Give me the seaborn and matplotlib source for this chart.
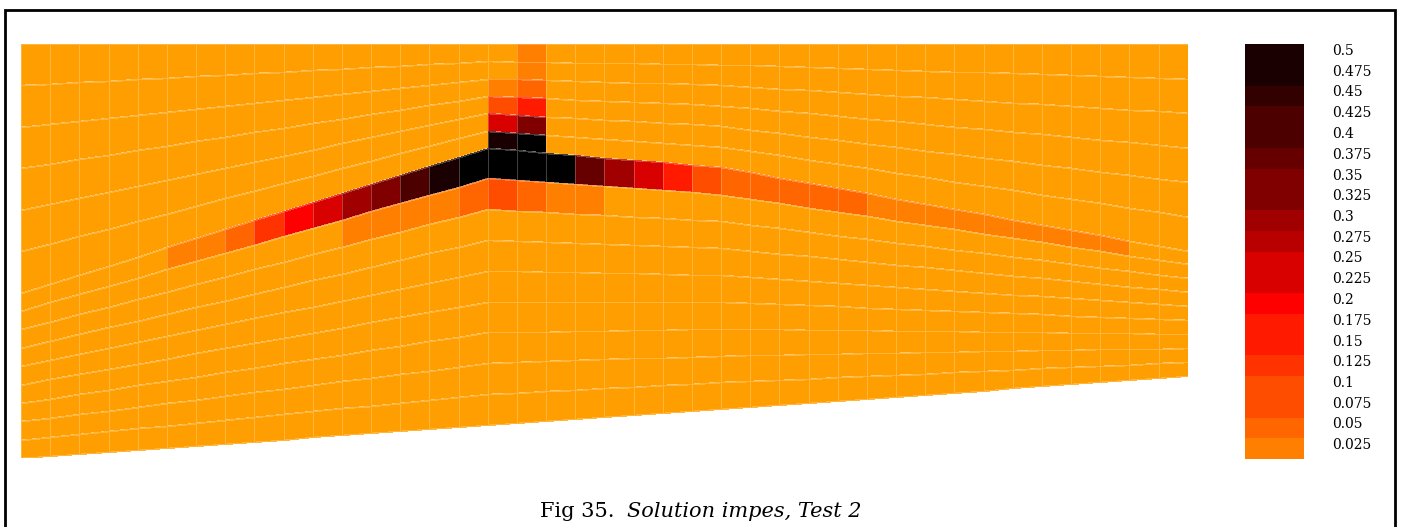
import numpy as np
import matplotlib
matplotlib.use("Agg")
import matplotlib.pyplot as plt
from matplotlib.colors import ListedColormap, BoundaryNorm
from matplotlib.cm import ScalarMappable
from matplotlib.patches import Rectangle
import seaborn as sns

# maillage : 40 colonnes, 15 couches (6 au-dessus, la couche drain, 8 en dessous)
n_cols = 40
dx = 29.17
n_upper, n_lower = 6, 8
break_cols = [0, 16, 24, 40]               # colonnes ou les interfaces changent de pente
upper_base = [248.7, 104.0, 123.0, 207.0]  # base des 6 couches du haut
band_base = [266.7, 134.3, 150.5, 220.3]   # base de la couche drain
floor = [414.3, 381.0, 365.3, 332.0]       # fond du domaine

# concentrations (couches numerotees depuis le haut)
band_row = 6
band_cols = list(range(5, 38))
band_vals = [0.02, 0.02, 0.04, 0.12, 0.19, 0.24, 0.29, 0.34, 0.41, 0.49,
             0.60, 0.60, 0.60, 0.60, 0.37, 0.29, 0.24, 0.16, 0.09,
             0.04, 0.04, 0.04, 0.04, 0.04,
             0.02, 0.02, 0.02, 0.02, 0.02, 0.02, 0.02, 0.02, 0.02]
below_row = 7
below_cols = list(range(11, 20))
below_vals = [0.02, 0.02, 0.02, 0.02, 0.04, 0.09, 0.04, 0.02, 0.02]
well_cols = [16, 17]
well_rows = list(range(0, 6))
well_vals = [[0.0, 0.0, 0.02, 0.09, 0.24, 0.49],
             [0.02, 0.02, 0.04, 0.16, 0.34, 0.60]]

levels = np.arange(0, 0.5001, 0.025)
band_colors = ["#FF8000", "#FF6600", "#FF4D00", "#FF4D00", "#FF3300",
               "#FF1A00", "#FF1A00", "#FF0000", "#D90000", "#D90000",
               "#B80000", "#A00000", "#800000", "#800000", "#660000",
               "#4D0000", "#4D0000", "#330000", "#1A0000", "#1A0000"]
bg_color = "#FF9E00"

# --- construction du maillage
n_rows = n_upper + 1 + n_lower
x_nodes = np.arange(n_cols + 1) * dx
xb = np.array(break_cols) * dx
d_up = np.interp(x_nodes, xb, upper_base)
d_band = np.interp(x_nodes, xb, band_base)
d_floor = np.interp(x_nodes, xb, floor)
Y = np.vstack([np.linspace(0, d_up, n_upper + 1),
               d_band[None, :],
               np.linspace(d_band, d_floor, n_lower + 1)[1:]])
X = np.tile(x_nodes, (n_rows + 1, 1))

C = np.zeros((n_rows, n_cols))
C[band_row, band_cols] = band_vals
C[below_row, below_cols] = below_vals
for c, vals in zip(well_cols, well_vals):
    C[well_rows, c] = vals
C = np.ma.masked_equal(C, 0)

cmap = ListedColormap(sns.color_palette(band_colors))
cmap.set_bad(bg_color)
cmap.set_over("black")
norm = BoundaryNorm(levels, cmap.N)

sns.set_theme(style="white")
plt.rcParams["font.family"] = ["DejaVu Serif"]
plt.rcParams["text.color"] = "black"
plt.rcParams["ytick.color"] = "black"

W, H = 1404, 527
fig = plt.figure(figsize=(W / 100, H / 100), dpi=100)
ax = fig.add_axes([21 / W, 1 - 458.3 / H, 1166.7 / W, 414.3 / H])
ax.pcolormesh(X, Y, C, cmap=cmap, norm=norm, shading="flat",
              edgecolors=(1, 1, 1, 0.25), linewidth=0.5)
ax.set_xlim(0, n_cols * dx)
ax.set_ylim(d_floor[0], 0)
ax.axis("off")

cax = fig.add_axes([1245 / W, 1 - 459 / H, 59 / W, 415 / H])
cbar = fig.colorbar(ScalarMappable(norm=norm, cmap=cmap), cax=cax,
                    ticks=levels[1:])
cbar.outline.set_visible(False)
cbar.ax.minorticks_off()
cbar.ax.tick_params(which="both", length=0, pad=20, labelsize=10,
                    labelcolor="black")
cbar.ax.set_yticklabels([f"{v:g}" for v in levels[1:]])
for lbl in cbar.ax.get_yticklabels():
    lbl.set_va("top")

# cadre de la figure
fig.add_artist(Rectangle((4.5 / W, -0.1), 1390 / W, 1.1 - 10 / H,
                         transform=fig.transFigure, fill=False,
                         edgecolor="black", linewidth=2))

fig.text(540 / W, 1 - 517 / H, "Fig 35.", ha="left", va="baseline",
         fontsize=15, color="black")
fig.text(627 / W, 1 - 517 / H, "Solution impes, Test 2", ha="left",
         va="baseline", fontsize=15, style="italic", color="black")

fig.savefig("out.png", dpi=100)
